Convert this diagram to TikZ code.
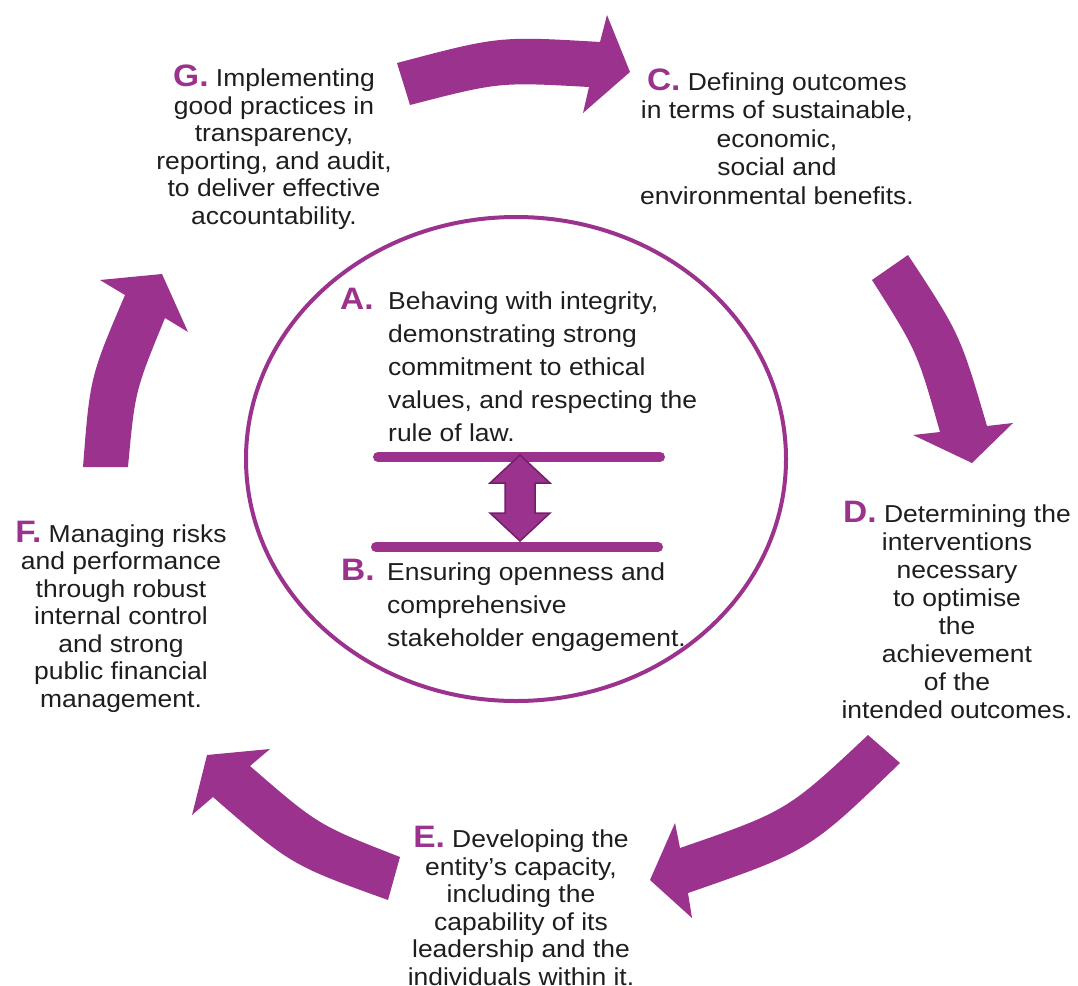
\documentclass[tikz,border=0pt]{standalone}
\usepackage{fontspec}
\setmainfont{Liberation Sans}[FakeStretch=1.08]
\definecolor{pur}{RGB}{155,50,142}
\definecolor{purdark}{RGB}{115,30,105}
\definecolor{txt}{RGB}{30,30,30}
\newcommand{\lett}[1]{{\fontsize{31}{27.5}\selectfont\bfseries\color{pur}#1}}
\tikzset{
  bigarrow/.style={fill=pur, draw=none},
  outertext/.style={font=\fontsize{24.5}{#1}\selectfont, text=txt, align=center, inner sep=0pt, anchor=base},
  outertext/.default=27.5,
  innertext/.style={font=\fontsize{24.5}{33}\selectfont, text=txt, align=left, inner sep=0pt, anchor=base west},
  letterlabel/.style={font=\fontsize{31}{33}\selectfont\bfseries, text=pur, inner sep=0pt, anchor=base west},
  barline/.style={draw=pur, line width=10pt, line cap=round},
  ringline/.style={draw=pur, line width=4pt},
  dblarrow/.style={fill=pur, draw=purdark, line width=1.5pt, line join=miter}
}
\begin{document}
\begin{tikzpicture}[x=1pt,y=-1pt]
\useasboundingbox (0,0) rectangle (1078,985);
\clip (0,0) rectangle (1078,985);

% central ring
\draw[ringline] (516,459) ellipse [x radius=270, y radius=242];

% bars
\coordinate (t1) at (378,457);
\coordinate (t2) at (660,457);
\coordinate (b1) at (376,547);
\coordinate (b2) at (658,547);
\draw[barline] (t1) -- (t2);
\draw[barline] (b1) -- (b2);

% double arrow
\draw[dblarrow] (520,455) -- (550,483) -- (535,483) -- (535,513) -- (550,513) -- (520,541)
  -- (490,513) -- (505,513) -- (505,483) -- (490,483) -- cycle;

% central texts (coordinates = first-line baseline for letters, last-line baseline for blocks)
\node[letterlabel] (la) at (340,309) {A.};
\node[innertext] (ta) at (388,441) {Behaving with integrity,\\demonstrating strong\\commitment to ethical\\values, and respecting the\\rule of law.};
\node[letterlabel] (lb) at (341,580) {B.};
\node[innertext] (tb) at (387,646) {Ensuring openness and\\comprehensive\\stakeholder engagement.};

% outer texts
\node[outertext] (g) at (274,224) {\lett{G.} Implementing\\good practices in\\transparency,\\reporting, and audit,\\to deliver effective\\accountability.};
\node[outertext=28.5] (c) at (777,204) {\lett{C.} Defining outcomes\\in terms of sustainable,\\economic,\\social and\\environmental benefits.};
\node[outertext=28] (d) at (957,718) {\lett{D.} Determining the\\interventions\\necessary\\to optimise\\the\\achievement\\of the\\intended outcomes.};
\node[outertext] (e) at (521,985) {\lett{E.} Developing the\\entity’s capacity,\\including the\\capability of its\\leadership and the\\individuals within it.};
\node[outertext] (f) at (121,707) {\lett{F.} Managing risks\\and performance\\through robust\\internal control\\and strong\\public financial\\management.};

% curved arrows
\fill[bigarrow] (397,63) .. controls (499,36) .. (600,42) -- (607,15) -- (630,72) -- (583,113)
  -- (589,87) .. controls (499,82) .. (410,105) -- cycle;
\fill[bigarrow] (908,255) .. controls (960,334) .. (987,426) -- (1013,423) -- (972,463) -- (913,435)
  -- (940,432) .. controls (917,351) .. (872,280) -- cycle;
\fill[bigarrow] (900,763) .. controls (809,851) .. (688,893) -- (692,918) -- (650,880) -- (675,823)
  -- (680,848) .. controls (787,811) .. (868,735) -- cycle;
\fill[bigarrow] (388,900) .. controls (291,865) .. (213,797) -- (192,815) -- (207,755) -- (270,749)
  -- (250,766) .. controls (318,825) .. (400,857) -- cycle;
\fill[bigarrow] (83,467) .. controls (90,377) .. (125,295) -- (100,280) -- (162,274) -- (188,332)
  -- (165,318) .. controls (135,391) .. (128,467) -- cycle;
\end{tikzpicture}
\end{document}
